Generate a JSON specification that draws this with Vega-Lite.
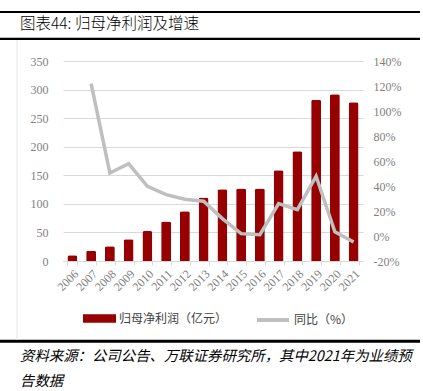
{
  "$schema": "https://vega.github.io/schema/vega-lite/v6.json",
  "width": 300,
  "height": 200,
  "autosize": {"type": "none"},
  "padding": {"left": 63, "top": 61, "right": 60, "bottom": 130},
  "background": "white",
  "config": {"view": {"stroke": null}},
  "datasets": {
    "main": [
      {"year": "2006", "profit": 10, "yoy": null},
      {"year": "2007", "profit": 18, "yoy": 121.9},
      {"year": "2008", "profit": 26, "yoy": 50.4},
      {"year": "2009", "profit": 38, "yoy": 57.9},
      {"year": "2010", "profit": 52.5, "yoy": 39.8},
      {"year": "2011", "profit": 69, "yoy": 33.1},
      {"year": "2012", "profit": 87, "yoy": 29.4},
      {"year": "2013", "profit": 111, "yoy": 27.8},
      {"year": "2014", "profit": 125.5, "yoy": 13.9},
      {"year": "2015", "profit": 126.7, "yoy": 1.9},
      {"year": "2016", "profit": 127, "yoy": 1.1},
      {"year": "2017", "profit": 159, "yoy": 25.9},
      {"year": "2018", "profit": 192, "yoy": 21.1},
      {"year": "2019", "profit": 282.4, "yoy": 47.8},
      {"year": "2020", "profit": 292, "yoy": 3.4},
      {"year": "2021", "profit": 278, "yoy": -4.8}
    ]
  },
  "layer": [
    {
      "data": {"name": "main"},
      "mark": {"type": "bar", "cornerRadiusEnd": 2},
      "encoding": {
        "x": {
          "field": "year", "type": "nominal", "sort": null,
          "scale": {"paddingInner": 0.47, "paddingOuter": 0.235},
          "axis": {
            "title": null, "labelAngle": -45, "labelFont": "Liberation Serif", "labelFontSize": 12,
            "labelColor": "#7f7f7f", "domainColor": "#d9d9d9", "tickColor": "#d9d9d9", "tickSize": 4,
            "tickBand": "extent", "grid": false, "labelPadding": 3
          }
        },
        "y": {
          "field": "profit", "type": "quantitative",
          "scale": {"domain": [0, 350], "nice": false},
          "axis": {
            "title": null, "values": [0, 50, 100, 150, 200, 250, 300, 350], "grid": true, "gridColor": "#d9d9d9",
            "domain": false, "ticks": false, "labelFont": "Liberation Serif", "labelFontSize": 12,
            "labelColor": "#7f7f7f", "labelPadding": 15
          }
        },
        "color": {
          "datum": "归母净利润（亿元）",
          "scale": {"range": ["#960000"]},
          "legend": {
            "title": null, "orient": "none", "legendX": 20, "legendY": 241,
            "symbolType": "M-1,-0.26L1,-0.26L1,0.26L-1,0.26Z", "symbolSize": 1089, "symbolStrokeWidth": 0,
            "labelFont": "Noto Sans CJK SC", "labelFontSize": 12, "labelColor": "#404040", "labelOffset": 3
          }
        }
      }
    },
    {
      "data": {"name": "main"},
      "mark": {"type": "line", "strokeWidth": 3.5},
      "encoding": {
        "x": {"field": "year", "type": "nominal", "sort": null},
        "y": {
          "field": "yoy", "type": "quantitative",
          "scale": {"domain": [-20, 140], "nice": false},
          "axis": {
            "title": null, "orient": "right", "values": [-20, 0, 20, 40, 60, 80, 100, 120, 140], "grid": false,
            "domain": false, "ticks": false, "labelFont": "Liberation Serif", "labelFontSize": 12,
            "labelColor": "#7f7f7f", "labelPadding": 10, "labelExpr": "datum.value + '%'"
          }
        },
        "stroke": {
          "datum": "同比（%）",
          "scale": {"range": ["#BFBFBF"]},
          "legend": {
            "title": null, "orient": "none", "legendX": 192, "legendY": 241,
            "symbolType": "stroke", "symbolSize": 1024, "symbolStrokeWidth": 4,
            "labelFont": "Noto Sans CJK SC", "labelFontSize": 12, "labelColor": "#404040", "labelOffset": 3
          }
        }
      }
    },
    {
      "data": {"values": [{"y": -49, "w": 2.2}, {"y": -22.2, "w": 2.2}, {"y": 280.3, "w": 3}]},
      "mark": {"type": "rule", "color": "black", "clip": false},
      "encoding": {
        "y": {"field": "y", "type": "quantitative", "scale": null},
        "x": {"value": -63},
        "x2": {"value": 357},
        "strokeWidth": {"field": "w", "type": "quantitative", "scale": null}
      }
    },
    {
      "data": {"values": [{}]},
      "mark": {"type": "rule", "color": "#e6e6e6", "strokeWidth": 1},
      "encoding": {"x": {"value": -46}, "y": {"value": -21}, "y2": {"value": 279}}
    },
    {
      "data": {"values": [{}]},
      "mark": {"type": "text", "align": "left", "baseline": "middle", "font": "Noto Sans CJK SC", "fontSize": 15.5, "fontWeight": 300, "color": "black", "text": "图表44: 归母净利润及增速"},
      "encoding": {"x": {"value": -43}, "y": {"value": -37.5}}
    },
    {
      "data": {"values": [{}]},
      "mark": {"type": "text", "align": "left", "baseline": "top", "font": "Noto Sans CJK SC", "fontSize": 14.4, "fontStyle": "italic", "lineHeight": 25, "color": "black",
        "text": ["资料来源：公司公告、万联证券研究所，其中2021年为业绩预", "告数据"]},
      "encoding": {"x": {"value": -43}, "y": {"value": 289}}
    }
  ],
  "resolve": {"scale": {"y": "independent"}}
}
